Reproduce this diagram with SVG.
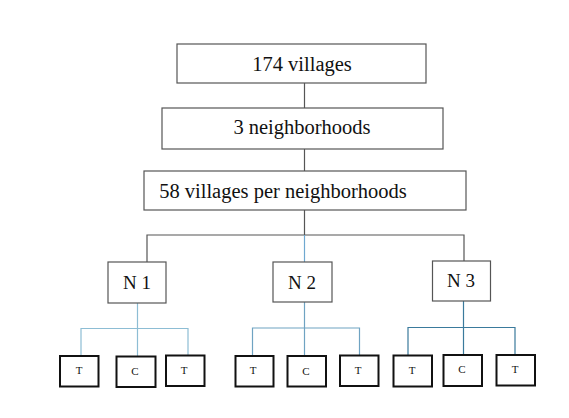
<svg xmlns="http://www.w3.org/2000/svg" width="569" height="418" viewBox="0 0 569 418">
<style>
.box{fill:#fff;stroke:#555;stroke-width:1.2}
.leaf{fill:#fff;stroke:#111;stroke-width:2}
.t{font-family:"Liberation Serif","Times New Roman",serif;fill:#111;text-anchor:middle}
.big{font-size:20.5px}
.mid{font-size:19px}
.sm{font-size:11px}
.c{fill:none;stroke-width:1.2}
</style>
<rect width="569" height="418" fill="#fff"/>
<g id="connectors">
<path class="c" stroke="#555" d="M304.5 83V108M304.5 149V171M304.5 210V235M147 262V235H464V261"/>
<path class="c" stroke="#6fa8d0" d="M304.5 235V262"/>
<path class="c" stroke="#8dbdd4" d="M137.5 303V356M81 356V328.5H188V355"/>
<path class="c" stroke="#6fa3c2" d="M304.5 302V356M252.5 356V328H359.5V355"/>
<path class="c" stroke="#3a7a9c" d="M463.5 301V356M408 356V327.5H515V355"/>
</g>
<g id="n174"><rect class="box" x="177" y="44" width="249" height="39"/><text class="t big" x="302" y="71">174 villages</text></g>
<g id="n3"><rect class="box" x="162" y="108" width="281" height="41"/><text class="t big" x="302" y="134">3 neighborhoods</text></g>
<g id="n58"><rect class="box" x="144" y="171" width="322" height="39"/><text class="t big" x="283" y="198">58 villages per neighborhoods</text></g>
<g id="N1"><rect class="box" x="108" y="262" width="58" height="41"/><text class="t mid" x="137" y="289">N 1</text></g>
<g id="N2"><rect class="box" x="273" y="262" width="59" height="40"/><text class="t mid" x="302" y="289">N 2</text></g>
<g id="N3"><rect class="box" x="432.5" y="261" width="58" height="40"/><text class="t mid" x="461" y="287">N 3</text></g>
<g id="N1T1"><rect class="leaf" x="60" y="356" width="38.5" height="30.5"/><text class="t sm" x="79" y="374">T</text></g>
<g id="N1C"><rect class="leaf" x="116.5" y="356.5" width="39" height="30.5"/><text class="t sm" x="135" y="375">C</text></g>
<g id="N1T2"><rect class="leaf" x="166" y="355.5" width="38.5" height="30.5"/><text class="t sm" x="184" y="374">T</text></g>
<g id="N2T1"><rect class="leaf" x="235.5" y="356" width="38" height="30.5"/><text class="t sm" x="253" y="374">T</text></g>
<g id="N2C"><rect class="leaf" x="287.5" y="356" width="38.5" height="30.5"/><text class="t sm" x="306" y="375">C</text></g>
<g id="N2T2"><rect class="leaf" x="340" y="355.5" width="38.5" height="30.5"/><text class="t sm" x="358" y="374">T</text></g>
<g id="N3T1"><rect class="leaf" x="393.5" y="355.5" width="38.5" height="31"/><text class="t sm" x="412" y="374">T</text></g>
<g id="N3C"><rect class="leaf" x="443.5" y="355" width="38.5" height="31"/><text class="t sm" x="462" y="373">C</text></g>
<g id="N3T2"><rect class="leaf" x="496.5" y="355" width="38.5" height="30.5"/><text class="t sm" x="515" y="373">T</text></g>
</svg>
